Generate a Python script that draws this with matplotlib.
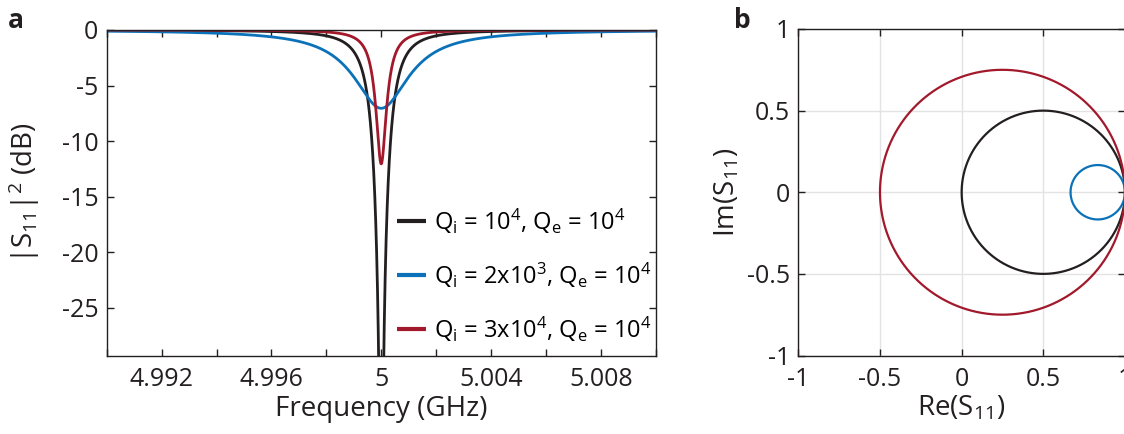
import numpy as np
import matplotlib
matplotlib.use("Agg")
import matplotlib.pyplot as plt

plt.rcParams['font.family'] = ['Open Sans', 'DejaVu Sans']
plt.rcParams['mathtext.fontset'] = 'custom'
plt.rcParams['mathtext.rm'] = 'Open Sans'
plt.rcParams['mathtext.it'] = 'Open Sans'

# ---- data (from legend) ----
f0_ghz = 5.0
Qi_values = [1e4, 2e3, 3e4]
Qe_values = [1e4, 1e4, 1e4]
series_labels = [r'Q$_\mathregular{i}$ = 10$^\mathregular{4}$, Q$_\mathregular{e}$ = 10$^\mathregular{4}$',
                 r'Q$_\mathregular{i}$ = 2x10$^\mathregular{3}$, Q$_\mathregular{e}$ = 10$^\mathregular{4}$',
                 r'Q$_\mathregular{i}$ = 3x10$^\mathregular{4}$, Q$_\mathregular{e}$ = 10$^\mathregular{4}$']
colors = ['#231f20', '#0b72b9', '#a2192c']
freq_ticks = [4.992, 4.996, 5.0, 5.004, 5.008]
freq_tick_labels = ['4.992', '4.996', '5', '5.004', '5.008']
db_ticks = [0, -5, -10, -15, -20, -25]
reim_ticks = [-1, -0.5, 0, 0.5, 1]
reim_labels = ['-1', '-0.5', '0', '0.5', '1']


def s11(f, Qi, Qe, f0=f0_ghz):
    d = (f - f0) / f0
    return ((1 / Qi - 1 / Qe) + 2j * d) / ((1 / Qi + 1 / Qe) + 2j * d)


W, H = 1124, 434
TICK_FS, LABEL_FS, LEG_FS = 18, 20, 17
INK = '#231f20'
fig = plt.figure(figsize=(W / 100, H / 100), dpi=100)
axa = fig.add_axes([106.7 / W, 1 - 355.7 / H, 549 / W, 325.7 / H])
axb = fig.add_axes([798.3 / W, 1 - 355.5 / H, 326.7 / W, 326.5 / H])

freq = np.linspace(4.99, 5.01, 8001) + 1e-9
for Qi, Qe, c, lab in zip(Qi_values, Qe_values, colors, series_labels):
    mag2 = np.abs(s11(freq, Qi, Qe)) ** 2
    db = np.maximum(20 * np.log10(np.maximum(mag2, 1e-12)), -100)
    axa.plot(freq, db, color=c, lw=2.0, label=lab, solid_capstyle='butt')

axa.set_xlim(4.99, 5.01)
axa.set_ylim(-29.3, 0)
minor_x = np.arange(4.99, 5.0101, 0.002)
axa.set_xticks(minor_x)
axa.set_xticklabels([freq_tick_labels[freq_ticks.index(round(t, 3))] if round(t, 3) in freq_ticks else ''
                     for t in minor_x])
axa.set_yticks(db_ticks)
axa.set_yticklabels([str(t) for t in db_ticks])
axa.tick_params(direction='in', length=5, width=1, top=True, right=True,
                labelsize=TICK_FS, color=INK, labelcolor=INK)
axa.tick_params(axis='x', pad=8)
axa.tick_params(axis='y', pad=6)
for s in axa.spines.values():
    s.set_linewidth(1.0)
    s.set_color(INK)
axa.set_xlabel('Frequency (GHz)', fontsize=LABEL_FS, color=INK, labelpad=2)
axa.set_ylabel(r'|S$_\mathregular{11}$|$^\mathregular{2}$ (dB)', fontsize=LABEL_FS, color=INK)
axa.yaxis.set_label_coords(-0.118, 0.5)
leg = axa.legend(loc='lower right', bbox_to_anchor=(0.993, 0.037), frameon=False, fontsize=LEG_FS,
                 handlelength=1.25, handletextpad=0.35, labelspacing=1.05, borderaxespad=0.0,
                 borderpad=0.0)
for h in leg.legend_handles:
    h.set_linewidth(3)

# ---- panel b ----
for Qi, Qe, c in zip(Qi_values, Qe_values, colors):
    k = 1 / Qi + 1 / Qe
    theta = np.linspace(-np.pi / 2 + 1e-6, np.pi / 2 - 1e-6, 4001)
    fsweep = f0_ghz * (1 + 0.5 * k * np.tan(theta))
    z = s11(fsweep, Qi, Qe)
    axb.plot(z.real, z.imag, color=c, lw=1.6)

axb.set_xlim(-1, 1)
axb.set_ylim(-1, 1)
axb.set_xticks(reim_ticks)
axb.set_xticklabels(reim_labels)
axb.set_yticks(reim_ticks)
axb.set_yticklabels(reim_labels)
axb.grid(True, color='#e3e3e3', lw=1.0)
axb.set_axisbelow(True)
axb.tick_params(direction='in', length=5, width=1, top=True, right=True,
                labelsize=TICK_FS, color=INK, labelcolor=INK)
axb.tick_params(axis='x', pad=8)
axb.tick_params(axis='y', pad=6)
for s in axb.spines.values():
    s.set_linewidth(1.0)
    s.set_color(INK)
axb.set_xlabel(r'Re(S$_\mathregular{11}$)', fontsize=LABEL_FS, color=INK, labelpad=2)
axb.set_ylabel(r'Im(S$_\mathregular{11}$)', fontsize=LABEL_FS, color=INK, labelpad=4)

fig.text(8 / W, 1 - 20 / H, 'a', fontsize=19, fontweight='bold', va='center', ha='left', color=INK)
fig.text(734 / W, 1 - 20 / H, 'b', fontsize=19, fontweight='bold', va='center', ha='left', color=INK)

fig.savefig('out.png', dpi=100)
